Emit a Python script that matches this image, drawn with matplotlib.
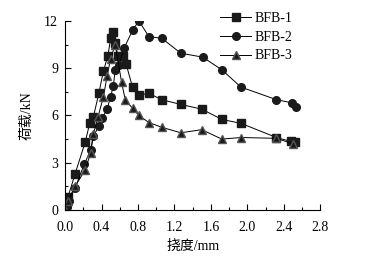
import matplotlib
matplotlib.use("Agg")
import matplotlib.pyplot as plt
from matplotlib.ticker import MultipleLocator

plt.rcParams['font.family'] = ['Liberation Serif', 'Noto Sans CJK SC']

# BFB-1 (squares)
x1 = [0, 0.03, 0.11, 0.22, 0.27, 0.31, 0.37, 0.42, 0.47, 0.50, 0.53, 0.55, 0.58,
      0.63, 0.67, 0.74, 0.81, 0.92, 1.06, 1.27, 1.50, 1.72, 1.93, 2.32, 2.48, 2.52]
y1 = [0, 0.8, 2.3, 4.3, 5.5, 5.9, 7.4, 8.8, 9.8, 10.9, 11.3, 10.6, 9.8,
      9.8, 9.25, 7.8, 7.3, 7.4, 7.0, 6.7, 6.4, 5.75, 5.5, 4.6, 4.35, 4.3]

# BFB-2 (circles)
x2 = [0, 0.02, 0.04, 0.11, 0.21, 0.28, 0.31, 0.37, 0.41, 0.46, 0.50, 0.53, 0.55,
      0.59, 0.65, 0.74, 0.81, 0.92, 1.06, 1.27, 1.51, 1.72, 1.93, 2.32, 2.49, 2.53]
y2 = [0, 0.2, 0.6, 1.4, 2.9, 3.8, 4.7, 5.3, 5.85, 6.4, 7.2, 7.9, 8.9,
      9.2, 10.3, 11.4, 12.0, 11.0, 10.9, 9.95, 9.7, 8.9, 7.8, 7.0, 6.8, 6.55]

# BFB-3 (triangles)
x3 = [0, 0.03, 0.11, 0.22, 0.28, 0.31, 0.36, 0.42, 0.46, 0.50, 0.55, 0.62,
      0.66, 0.74, 0.81, 0.92, 1.06, 1.27, 1.50, 1.72, 1.93, 2.32, 2.50]
y3 = [0, 0.6, 1.5, 2.55, 3.6, 4.8, 5.9, 7.15, 8.5, 9.6, 10.5, 8.1,
      7.0, 6.45, 6.0, 5.55, 5.25, 4.9, 5.1, 4.5, 4.6, 4.55, 4.2]

fig = plt.figure(figsize=(3.83, 2.58), dpi=100)
ax = fig.add_axes([0.170, 0.186, 0.666, 0.733])

ms = 5.5
ax.plot(x1, y1, color='black', lw=0.7, marker='s', ms=ms, mfc='#1a1a1a', mec='#1a1a1a', label='BFB-1')
ax.plot(x2, y2, color='black', lw=0.7, marker='o', ms=ms, mfc='#1a1a1a', mec='#1a1a1a', label='BFB-2')
ax.plot(x3, y3, color='black', lw=0.7, marker='^', ms=ms + 0.5, mfc='#1a1a1a', mec='#555555', label='BFB-3')

ax.set_xlim(0, 2.8)
ax.set_ylim(0, 12)
ax.xaxis.set_major_locator(MultipleLocator(0.4))
ax.xaxis.set_minor_locator(MultipleLocator(0.2))
ax.yaxis.set_major_locator(MultipleLocator(3))
ax.yaxis.set_minor_locator(MultipleLocator(1.5))
ax.xaxis.set_major_formatter(plt.FuncFormatter(lambda v, p: f"{v:.1f}"))
ax.tick_params(which='major', direction='in', length=4, width=0.8, labelsize=10)
ax.tick_params(axis='x', which='major', pad=8)
ax.tick_params(axis='y', which='major', pad=5)
ax.tick_params(which='minor', direction='in', length=2, width=0.8)

ax.spines['top'].set_visible(False)
ax.spines['right'].set_visible(False)
for s in ('left', 'bottom'):
    ax.spines[s].set_linewidth(0.8)

ax.set_xlabel('挠度/mm', fontsize=10, labelpad=4)
ax.set_ylabel('荷载/kN', fontsize=10, labelpad=8)

ax.legend(loc='upper left', bbox_to_anchor=(0.57, 1.10), frameon=False, fontsize=10,
          handlelength=2.2, handletextpad=0.3, labelspacing=0.42, borderpad=0.2)

fig.savefig('out.png', dpi=100)
